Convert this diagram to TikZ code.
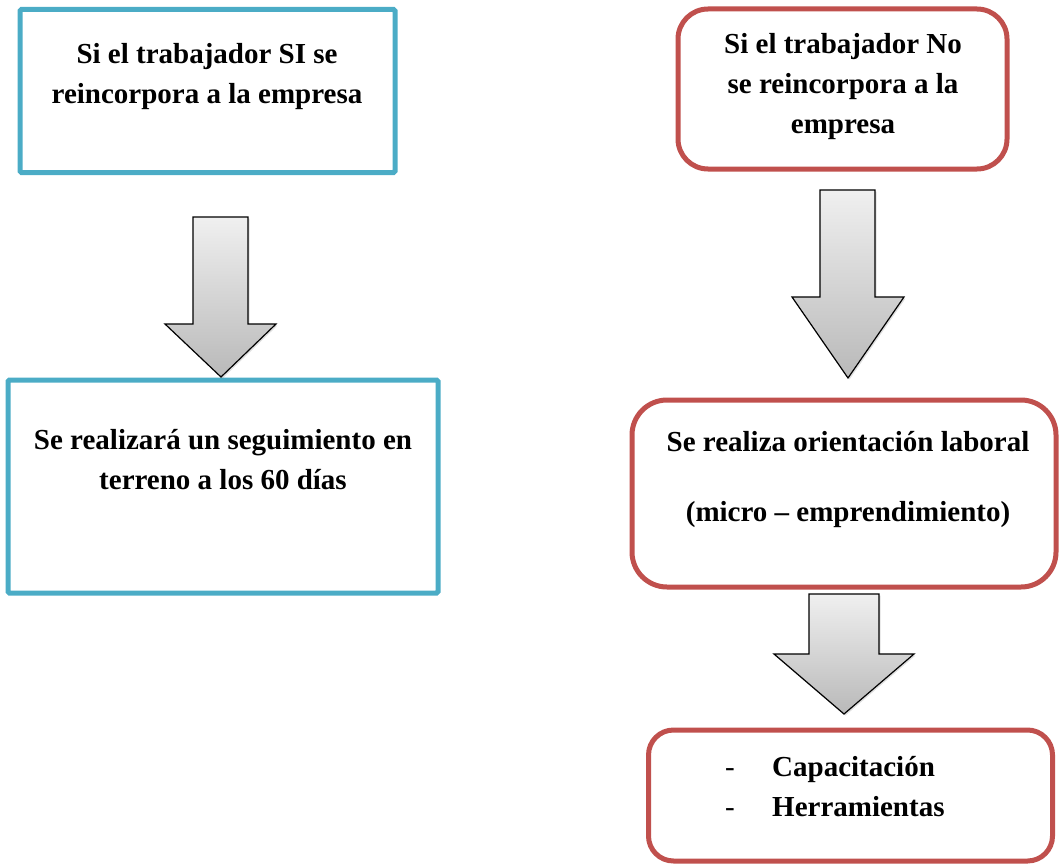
\documentclass[tikz,border=0pt]{standalone}
\usepackage{fontspec}
\setmainfont{Liberation Serif}
\usetikzlibrary{shadows}
\definecolor{boxblue}{HTML}{4BACC6}
\definecolor{boxred}{HTML}{C0504D}
\begin{document}
\begin{tikzpicture}[x=1pt,y=1pt,
  bluebox/.style={draw=boxblue, line width=5pt, rounded corners=1.5pt, inner sep=0pt},
  redbox/.style={draw=boxred, line width=5pt, rounded corners=30pt, inner sep=0pt},
  txt/.style={font=\fontsize{29}{40}\selectfont\bfseries, align=center, inner sep=0pt},
  blockarrow/.style={draw=black, line width=1.2pt, top color=gray!12, bottom color=gray!55,
    drop shadow={shadow xshift=1.5pt, shadow yshift=-1.5pt, opacity=0.25}}
]
\useasboundingbox (0,0) rectangle (1059,-864);
% left column
\node[bluebox, minimum width=375, minimum height=163] (b1) at (207.5,-91) {};
\node[txt] (t1) at (207,-77) {Si el trabajador SI se\\reincorpora a la empresa};
\node[bluebox, minimum width=430, minimum height=213] (b2) at (223,-486.5) {};
\node[txt] (t2) at (223,-460) {Se realizará un seguimiento en\\terreno a los 60 días};
% right column
\node[redbox, minimum width=329, minimum height=160] (b3) at (842.5,-89) {};
\node[txt] (t3) at (843,-87) {Si el trabajador No\\se reincorpora a la\\empresa};
\node[redbox, rounded corners=35pt, minimum width=424, minimum height=187] (b4) at (844,-493.5) {};
\node[txt, font=\fontsize{29}{70}\selectfont\bfseries] (t4) at (848,-480) {Se realiza orientación laboral\\(micro – emprendimiento)};
\node[redbox, rounded corners=25pt, minimum width=404, minimum height=131] (b5) at (850.5,-795.5) {};
\node[txt, align=left, anchor=west] (t5) at (725,-787) {\makebox[47pt][l]{\mdseries -}Capacitación\\\makebox[47pt][l]{\mdseries -}Herramientas};
% block arrows
\path[blockarrow] (193,-217) -- (248,-217) -- (248,-324) -- (276,-324) -- (221,-377)
  -- (165,-324) -- (193,-324) -- cycle;
\path[blockarrow] (820,-190) -- (875,-190) -- (875,-297) -- (904,-297) -- (848,-378)
  -- (792,-297) -- (820,-297) -- cycle;
\path[blockarrow] (809,-594) -- (879,-594) -- (879,-654) -- (914,-654) -- (844,-714)
  -- (774,-654) -- (809,-654) -- cycle;
\end{tikzpicture}
\end{document}
